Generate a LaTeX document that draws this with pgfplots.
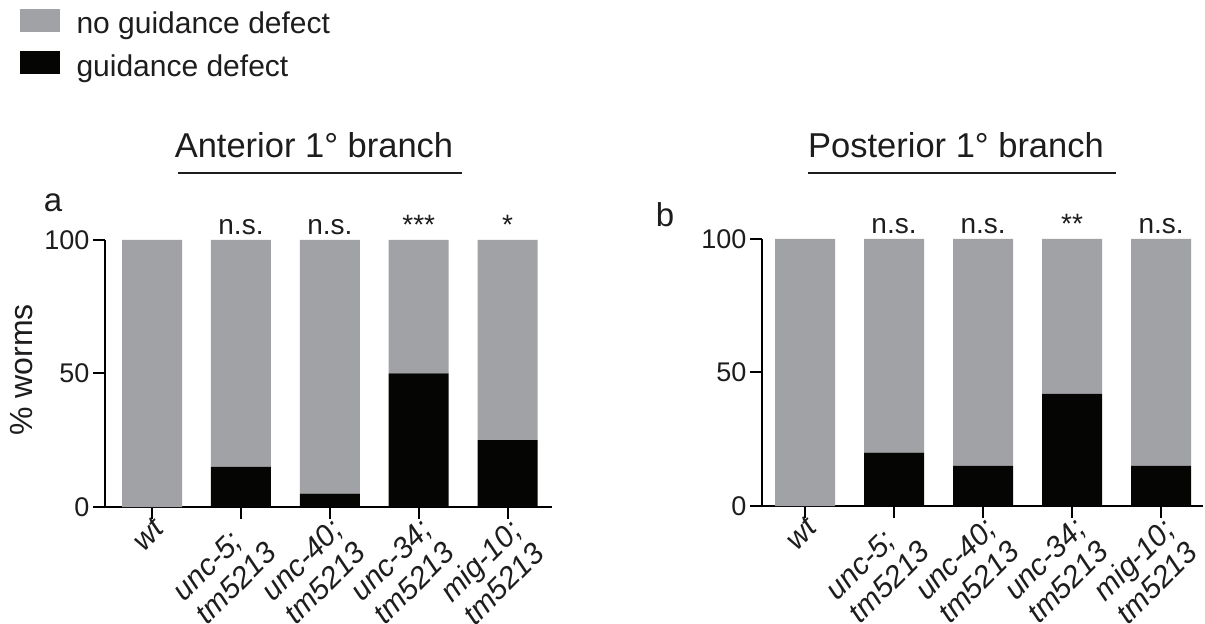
\documentclass[border=0pt]{standalone}
\usepackage{fontspec}
\setmainfont{Liberation Sans}
\usepackage{pgfplots}
\pgfplotsset{compat=1.18}
\definecolor{bargray}{RGB}{161,162,166}
\definecolor{barblack}{RGB}{5,5,3}
\definecolor{txt}{RGB}{30,28,28}
\tikzset{sig/.style={font=\fontsize{28bp}{32bp}\selectfont, text=txt, anchor=base, yshift=5bp}}
\pgfplotsset{
  mystyle/.style={
    scale only axis,
    ybar stacked, bar width=60bp,
    ymin=0, ymax=100, ytick={0,50,100},
    xtick={0,1,2,3,4},
    xticklabels={wt,{unc-5;\\tm5213},{unc-40;\\tm5213},{unc-34;\\tm5213},{mig-10;\\tm5213}},
    axis lines=left,
    axis line style={-, line width=2bp, black},
    tick style={line width=2bp, black},
    major tick length=12bp, tick align=outside,
    /pgf/number format/assume math mode=true,
    yticklabel style={font=\fontsize{27bp}{32bp}\selectfont, text=txt},
    xticklabel style={font=\fontsize{30bp}{32.5bp}\selectfont\itshape, text=txt, yshift=5bp, rotate=45, anchor=north east, align=left, inner sep=2bp},
    clip=false,
  }
}
\begin{document}
\begin{tikzpicture}
\useasboundingbox (0,0) rectangle (1205bp,624bp);
% left panel
\begin{axis}[mystyle,
  at={(105bp,117bp)}, anchor=south west,
  width=447bp, height=267bp,
  xmin=-0.53, xmax=4.5,
  ylabel={\% worms},
  ylabel style={font=\fontsize{32bp}{38bp}\selectfont, text=txt, at={(axis description cs:-0.186,0.513)}, anchor=center},
  legend style={draw=none, fill=none, at={(axis description cs:-0.197,1.875)}, anchor=north west,
    font=\fontsize{30bp}{36bp}\selectfont, text=txt, row sep=14bp, column sep=15bp},
  legend cell align=left,
]
\addplot[fill=barblack, draw=none, forget plot] coordinates {(0,0) (1,15) (2,5) (3,50) (4,25)};
\addplot[fill=bargray, draw=none, forget plot] coordinates {(0,100) (1,85) (2,95) (3,50) (4,75)};
\addlegendimage{legend image code/.code={\fill[bargray] (0bp,-7bp) rectangle (39bp,15bp);}}
\addlegendentry{no guidance defect}
\addlegendimage{legend image code/.code={\fill[barblack] (0bp,-7bp) rectangle (39bp,15bp);}}
\addlegendentry{guidance defect}
\node[sig] at (axis cs:1,100) {n.s.};
\node[sig] at (axis cs:2,100) {n.s.};
\node[sig] at (axis cs:3,100) {***};
\node[sig] at (axis cs:4,100) {*};
\end{axis}
% right panel
\begin{axis}[mystyle,
  at={(762bp,118bp)}, anchor=south west,
  width=441bp, height=267bp,
  xmin=-0.483, xmax=4.47,
]
\addplot[fill=barblack, draw=none] coordinates {(0,0) (1,20) (2,15) (3,42) (4,15)};
\addplot[fill=bargray, draw=none] coordinates {(0,100) (1,80) (2,85) (3,58) (4,85)};
\node[sig] at (axis cs:1,100) {n.s.};
\node[sig] at (axis cs:2,100) {n.s.};
\node[sig] at (axis cs:3,100) {**};
\node[sig] at (axis cs:4,100) {n.s.};
\end{axis}
% titles
\node[anchor=base, font=\fontsize{34.5bp}{40bp}\selectfont, text=txt] at (314bp,466bp) {Anterior 1° branch};
\draw[line width=2bp, txt] (178bp,451bp) -- (462bp,451bp);
\node[anchor=base, font=\fontsize{34.5bp}{40bp}\selectfont, text=txt] at (956bp,466bp) {Posterior 1° branch};
\draw[line width=2bp, txt] (808bp,451bp) -- (1116bp,451bp);
\node[anchor=base, font=\fontsize{33bp}{40bp}\selectfont, text=txt] at (53bp,412bp) {a};
\node[anchor=base, font=\fontsize{33bp}{40bp}\selectfont, text=txt] at (665bp,397bp) {b};
\end{tikzpicture}
\end{document}
